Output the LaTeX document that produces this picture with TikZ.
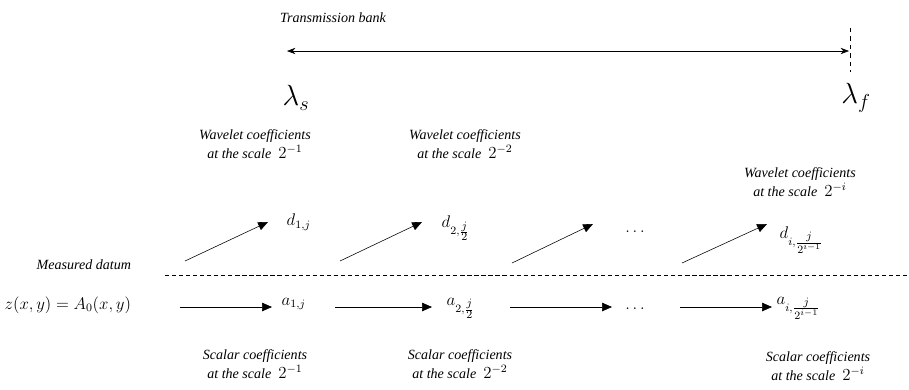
\documentclass[tikz,border=0pt]{standalone}
\usepackage{fontspec}
\setmainfont{Liberation Serif}
\usetikzlibrary{arrows.meta}

\tikzset{
    note/.style = {font=\normalsize\itshape, align=center, inner sep=1pt},
    coef/.style = {font=\large, inner sep=1pt},
    flow/.style = {-{Triangle[length=7pt,width=6pt]}, thin},
    mdash/.style = {dash pattern=on 3pt off 2pt, thin}
}
\newcommand{\atscale}[1]{at the scale \ {\large$2^{#1}$}}
\newcommand{\sfr}[2]{\frac{\scriptstyle #1}{\scriptstyle #2}}

\begin{document}
\begin{tikzpicture}[x=0.025cm, y=-0.025cm]
            \useasboundingbox (0,0) rectangle (909,389);
            % transmission bank
            \node[note] (bank) at (333,18) {Transmission bank};
            \coordinate (ls) at (287,51);
            \coordinate (lf) at (849,51);
            \draw[{Stealth[length=6pt]}-{Stealth[length=6pt]}] (ls) -- (lf);
            \coordinate (ftop) at (850,28);
            \coordinate (fbot) at (850,72);
            \draw[dashed, thin] (ftop) -- (fbot);
            \node (lams) at (296,98) {\huge$\lambda_s$};
            \node (lamf) at (856,98) {\huge$\lambda_f$};
            % wavelet notes
            \node[note] (w1) at (255,144) {Wavelet coefficients\\[2pt]\atscale{-1}};
            \node[note] (w2) at (465,144) {Wavelet coefficients\\[2pt]\atscale{-2}};
            \node[note] (w3) at (800,182) {Wavelet coefficients\\[2pt]\atscale{-i}};
            % detail coefficients
            \node[coef, anchor=west] (d1) at (285,222) {$d_{1,j}$};
            \node[coef, anchor=west] (d2) at (440,228) {$d_{2,\sfr{j}{2}}$};
            \node[coef] (dd) at (635,232) {$\ldots$};
            \node[coef, anchor=west] (di) at (778,240) {$d_{i,\sfr{j}{2^{i-1}}}$};
            \coordinate (s1) at (185,261);
            \coordinate (s2) at (340,261);
            \coordinate (s3) at (512,263);
            \coordinate (s4) at (682,263);
            \coordinate (e1) at (268,222);
            \coordinate (e2) at (422,222);
            \coordinate (e3) at (593,224);
            \coordinate (e4) at (767,224);
            \draw[flow] (s1) -- (e1);
            \draw[flow] (s2) -- (e2);
            \draw[flow] (s3) -- (e3);
            \draw[flow] (s4) -- (e4);
            % measured datum
            \node[note, anchor=west] (datum) at (35,265) {Measured datum};
            \coordinate (dl) at (165,275);
            \coordinate (dr) at (909,275);
            \draw[mdash] (dl) -- (dr);
            % scalar coefficients
            \node[coef, anchor=west] (z) at (3,305) {$z(x,y) = A_0(x,y)$};
            \node[coef, anchor=west] (a1) at (280,304) {$a_{1,j}$};
            \node[coef, anchor=west] (a2) at (445,308) {$a_{2,\sfr{j}{2}}$};
            \node[coef] (ad) at (635,309) {$\ldots$};
            \node[coef, anchor=west] (ai) at (775,308) {$a_{i,\sfr{j}{2^{i-1}}}$};
            \coordinate (h1) at (180,307);
            \coordinate (t1) at (272,307);
            \coordinate (h2) at (335,307);
            \coordinate (t2) at (432,307);
            \coordinate (h3) at (510,307);
            \coordinate (t3) at (612,307);
            \coordinate (h4) at (680,307);
            \coordinate (t4) at (772,307);
            \draw[flow] (h1) -- (t1);
            \draw[flow] (h2) -- (t2);
            \draw[flow] (h3) -- (t3);
            \draw[flow] (h4) -- (t4);
            \node[note] (c1) at (255,364) {Scalar coefficients\\[2pt]\atscale{-1}};
            \node[note] (c2) at (460,364) {Scalar coefficients\\[2pt]\atscale{-2}};
            \node[note] (c3) at (818,366) {Scalar coefficients\\[2pt]\atscale{-i}};
        \end{tikzpicture}
\end{document}
